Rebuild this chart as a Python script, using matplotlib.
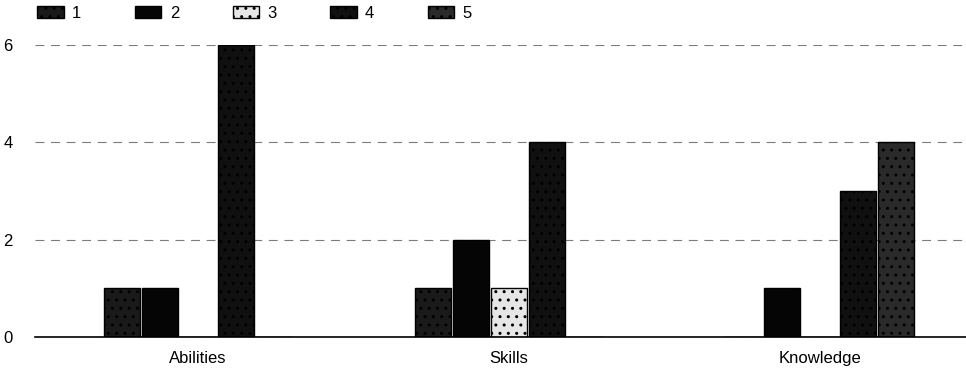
import matplotlib.pyplot as plt
import numpy as np

plt.rcParams['font.family'] = ['Liberation Sans', 'DejaVu Sans']
plt.rcParams['hatch.color'] = '#888888'

### Data ###
categories = ['Abilities', 'Skills', 'Knowledge']
series_names = ['1', '2', '3', '4', '5']
s1 = [1, 1, 0]
s2 = [1, 2, 1]
s3 = [0, 1, 0]
s4 = [6, 4, 3]
s5 = [0, 0, 4]
yticks = [0, 2, 4, 6]

series = [s1, s2, s3, s4, s5]
colors = ['#1a1a1a', '#050505', '#e6e6e6', '#101010', '#2a2a2a']
hatches = ['..', '', '..', '..', '..']

### Plot ###
fig = plt.figure(figsize=(9.66, 3.72), dpi=100)
ax = fig.add_axes([0.036, 0.094, 0.964, 0.785])

x = np.arange(len(categories))
width = 0.116
step = 0.1226
for i, vals in enumerate(series):
    xs = x + (i - 2) * step
    ax.bar(xs, vals, width, color=colors[i], edgecolor='black', linewidth=1,
           hatch=hatches[i], label=series_names[i])

ax.set_xlim(-0.526, 2.471)
ax.set_ylim(0, 6)
ax.set_yticks(yticks)
ax.set_xticks(x)
ax.set_xticklabels(categories, fontsize=12)
ax.tick_params(axis='both', length=0, labelsize=12)
ax.tick_params(axis='x', pad=10)
ax.tick_params(axis='y', pad=16)
for sp in ['top', 'right', 'left']:
    ax.spines[sp].set_visible(False)
ax.spines['bottom'].set_linewidth(1.2)
ax.grid(axis='y', color='#444444', linestyle=(0, (8, 6)), linewidth=0.8, alpha=0.7)
ax.set_axisbelow(True)

leg = fig.legend(loc='upper left', bbox_to_anchor=(0.023, 1.025), ncol=5, frameon=False,
                 fontsize=12, handlelength=1.6, handleheight=0.75, columnspacing=3.2,
                 handletextpad=0.5)

fig.savefig('out.png', dpi=100)
